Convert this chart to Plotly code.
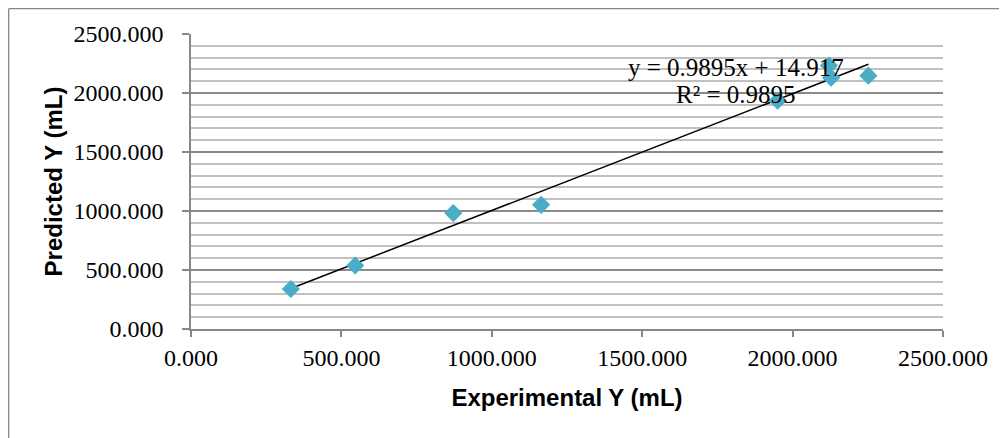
import plotly.graph_objects as go

# Data
experimental_y = [332, 546, 872, 1164, 1950, 2121, 2128, 2252]
predicted_y = [339, 538, 982, 1052, 1935, 2232, 2130, 2147]

trend_slope = 0.9895
trend_intercept = 14.917
trend_r2 = 0.9895

x_ticks = [0, 500, 1000, 1500, 2000, 2500]
y_ticks = [0, 500, 1000, 1500, 2000, 2500]
tick_labels = ["0.000", "500.000", "1000.000", "1500.000", "2000.000", "2500.000"]

# page body has an 8px margin, so the figure starts at (8, 8)
W, H = 999, 430
L, R, T, B = 183, 64, 26, 109
pw, ph = W - L - R, H - T - B

serif = "Liberation Serif, Times New Roman, serif"
sans = "Liberation Sans, Arial, sans-serif"

fig = go.Figure()

tx = [min(experimental_y), max(experimental_y)]
ty = [trend_slope * v + trend_intercept for v in tx]
fig.add_trace(go.Scatter(x=tx, y=ty, mode="lines",
                         line=dict(color="black", width=1.5),
                         showlegend=False, hoverinfo="skip"))

fig.add_trace(go.Scatter(x=experimental_y, y=predicted_y, mode="markers",
                         marker=dict(symbol="diamond", size=14, color="#4BACC6",
                                     line=dict(width=0)),
                         showlegend=False))

fig.add_annotation(x=1812, y=2212, xref="x", yref="y",
                   text=f"y = {trend_slope}x + {trend_intercept}",
                   showarrow=False, font=dict(family=serif, size=25, color="black"))
fig.add_annotation(x=1812, y=1984, xref="x", yref="y",
                   text=f"R² = {trend_r2}",
                   showarrow=False, font=dict(family=serif, size=25, color="black"))

# outer chart frame (top and left edges visible)
fx0 = 0.7 / pw - L / pw
fy1 = (H - B - 0.7) / ph
fig.add_shape(type="line", xref="paper", yref="paper", x0=fx0, x1=(W + 5 - L) / pw,
              y0=fy1, y1=fy1, line=dict(color="#878787", width=1.3))
fig.add_shape(type="line", xref="paper", yref="paper", x0=fx0, x1=fx0,
              y0=fy1, y1=(H - B - 445) / ph, line=dict(color="#878787", width=1.3))

fig.update_layout(
    width=W, height=H,
    margin=dict(l=L, r=R, t=T, b=B, pad=0),
    paper_bgcolor="white", plot_bgcolor="white",
    xaxis=dict(range=[0, 2500], tickvals=x_ticks, ticktext=tick_labels,
               showgrid=False, zeroline=False,
               showline=True, linecolor="#878787", linewidth=1.5,
               ticks="outside", ticklen=6, tickcolor="#878787", tickwidth=1.5,
               tickfont=dict(family=serif, size=24, color="black"),
               title=dict(text="<b>Experimental Y (mL)</b>",
                          font=dict(family=sans, size=24, color="black"),
                          standoff=20)),
    yaxis=dict(range=[0, 2500], tickvals=y_ticks, ticktext=tick_labels,
               showgrid=True, gridcolor="#8a8a8a", gridwidth=1.5,
               zeroline=False,
               showline=True, linecolor="#878787", linewidth=1.5,
               ticks="outside", ticklen=7, tickcolor="#878787", tickwidth=1.5,
               ticklabelstandoff=14,
               tickfont=dict(family=serif, size=24, color="black"),
               minor=dict(dtick=100, showgrid=True, gridcolor="#c0c0c0",
                          gridwidth=1.5, ticks=""),
               title=dict(text="<b>Predicted Y (mL)</b>",
                          font=dict(family=sans, size=24, color="black"),
                          standoff=4)),
)

fig.write_html("out.html")
